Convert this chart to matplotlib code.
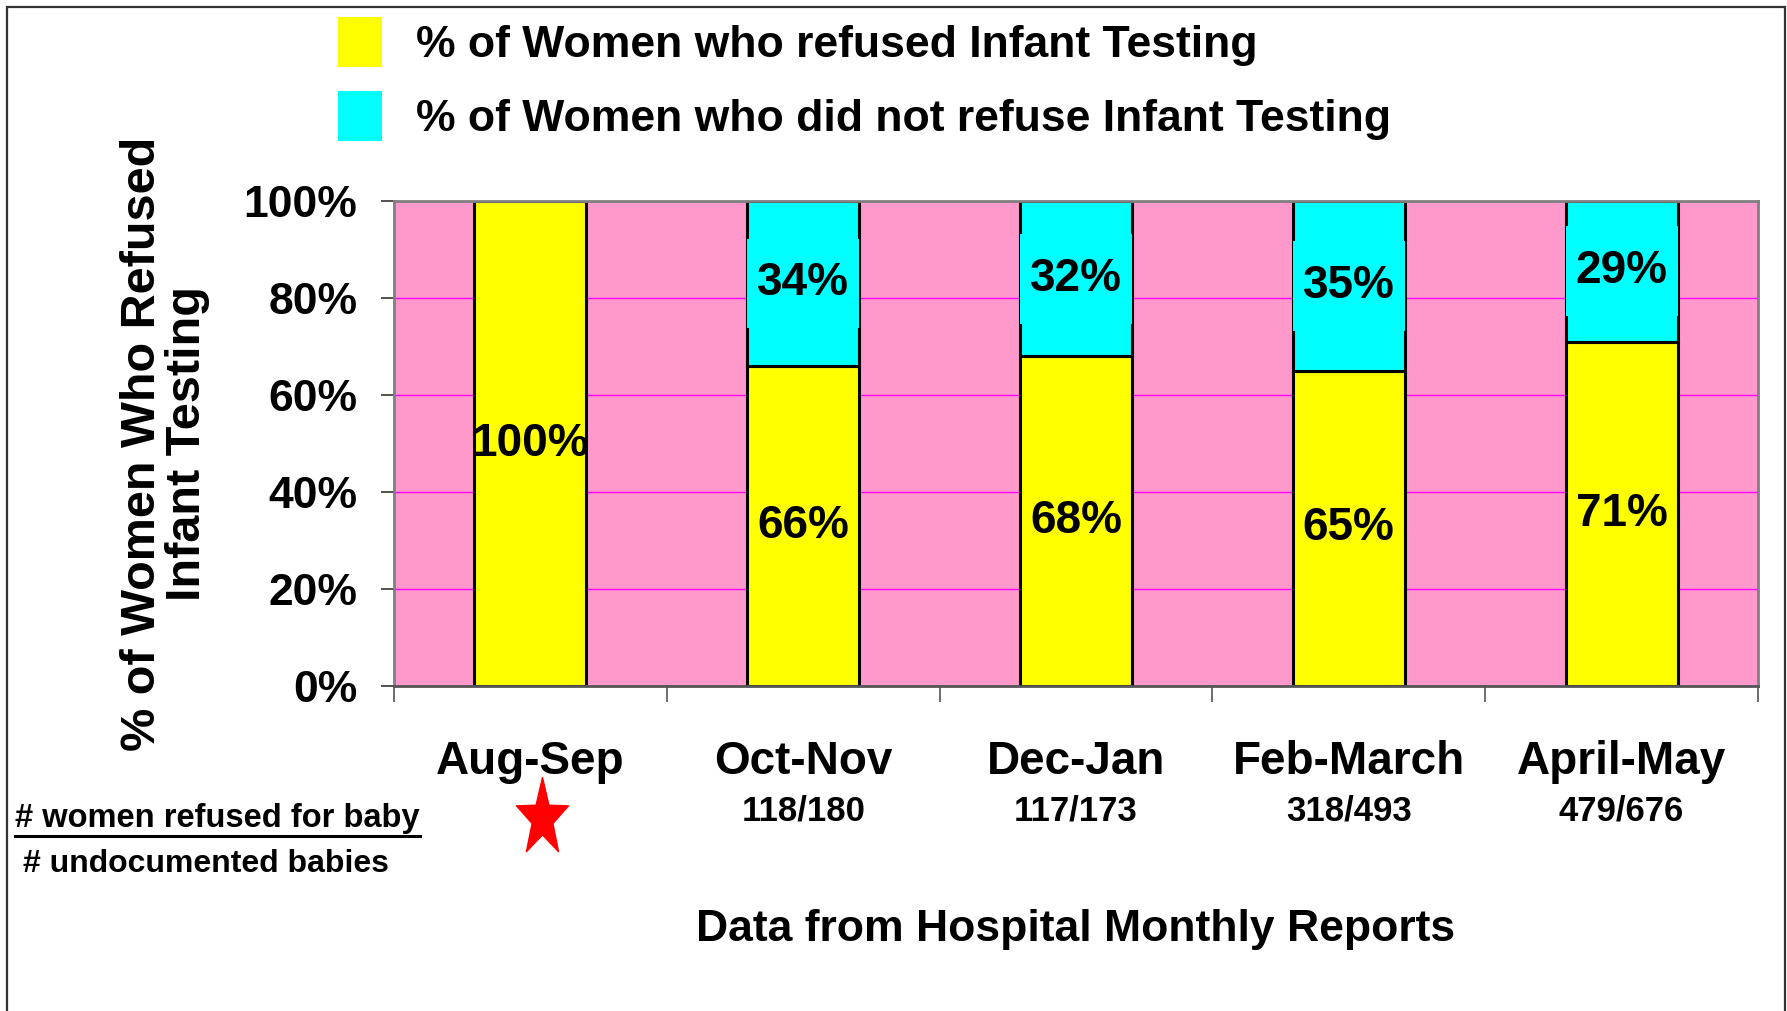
import matplotlib
matplotlib.use('Agg')
import matplotlib.pyplot as plt
from matplotlib.patches import Patch, Rectangle
from matplotlib.lines import Line2D
from matplotlib.path import Path
from matplotlib import transforms
import numpy as np

# data
periods = ['Aug-Sep', 'Oct-Nov', 'Dec-Jan', 'Feb-March', 'April-May']
refused = [100, 66, 68, 65, 71]
not_refused = [0, 34, 32, 35, 29]
counts = ['', '118/180', '117/173', '318/493', '479/676']
y_ticks = [0, 20, 40, 60, 80, 100]

legend_labels = ['% of Women who refused Infant Testing',
                 '% of Women who did not refuse Infant Testing']

YELLOW = '#FFFF00'
CYAN = '#00FFFF'
PINK = '#FF99CC'

W, H = 1787, 1011
fig = plt.figure(figsize=(W / 100, H / 100), dpi=100)
ax = fig.add_axes([394 / W, 1 - 686 / H, (1758 - 394) / W, (686 - 201) / H])

font = ['Liberation Sans', 'DejaVu Sans']


def label_box(x0, y0, width, height, mutation_size):
    # box taller than wide, like the excel data labels
    px, py = 0.22 * mutation_size, 0.5 * mutation_size
    x0, y0 = x0 - px, y0 - py
    x1, y1 = x0 + width + 2 * px, y0 + height + 2 * py
    return Path([(x0, y0), (x1, y0), (x1, y1), (x0, y1), (x0, y0)], closed=True)


x = np.arange(len(periods))
ax.set_facecolor(PINK)
ax.set_axisbelow(True)
ax.yaxis.grid(True, color='#FF00FF', linewidth=1)

bars_r = ax.bar(x, refused, width=0.41, color=YELLOW, edgecolor='black', linewidth=2.2)
bars_n = ax.bar(x, not_refused, width=0.41, bottom=refused, color=CYAN,
                edgecolor='black', linewidth=2.2)

ax.bar_label(bars_r, labels=[f'{v}%' for v in refused], label_type='center',
             fontsize=33, fontweight='bold', family=font)
ax.bar_label(bars_n, labels=[f'{v}%' if v else '' for v in not_refused],
             label_type='center', fontsize=33, fontweight='bold', family=font,
             bbox=dict(boxstyle=label_box, facecolor=CYAN, edgecolor='none'))

ax.set_xlim(-0.5, len(periods) - 0.5)
ax.set_ylim(0, 100)
ax.set_yticks(y_ticks)
ax.set_yticklabels([f'{t}%' for t in y_ticks], fontsize=32, fontweight='bold', family=font)
ax.tick_params(axis='y', length=9.5, width=1.2, pad=17, color='#333333')

ax.set_xticks(x)
ax.set_xticklabels(periods, fontsize=33, fontweight='bold', family=font)
ax.set_xticks(np.arange(len(periods) + 1) - 0.5, minor=True)
ax.tick_params(axis='x', which='major', length=0, pad=39)
ax.tick_params(axis='x', which='minor', length=11.5, width=1.2, color='#555555')

for s in ax.spines.values():
    s.set_color('#808080')
    s.set_linewidth(2)
ax.spines['bottom'].set_color('#555555')

ax.set_ylabel('% of Women Who Refused\nInfant Testing', fontsize=35, fontweight='bold',
              family=font, linespacing=1.0, va='center')
ax.yaxis.set_label_coords((165 - 394) / (1758 - 394), 0.5)

blend = transforms.blended_transform_factory(ax.transData, ax.transAxes)
for i, c in enumerate(counts):
    if c:
        ax.annotate(c, xy=(i, 0), xycoords=blend, xytext=(0, -90),
                    textcoords='offset points', ha='center', va='center',
                    fontsize=25, fontweight='bold', family=font)

# red star under Aug-Sep
ang = np.pi / 2 + np.arange(10) * np.pi / 5
rad = np.where(np.arange(10) % 2 == 0, 1.0, 0.4)
verts = np.column_stack([rad * np.cos(ang), 1.5 * rad * np.sin(ang)])
star = Path(np.vstack([verts, verts[:1]]), closed=True)
ax.plot([0], [0], marker=star, markersize=59, color='red', linestyle='none',
        clip_on=False,
        transform=blend + transforms.ScaledTranslation(12 / 100, -132 / 100, fig.dpi_scale_trans))

handles = [Patch(facecolor=YELLOW, edgecolor='none'), Patch(facecolor=CYAN, edgecolor='none')]
fig.legend(handles, legend_labels, loc='upper left', bbox_to_anchor=(338 / W, 1 - 17 / H),
           frameon=False, borderpad=0, borderaxespad=0, handlelength=1.0,
           handleheight=1.35, handletextpad=0.75, labelspacing=0.55,
           prop=dict(family=font, weight='bold', size=32))

fig.text(1076 / W, 1 - 929 / H, 'Data from Hospital Monthly Reports', ha='center',
         va='center', fontsize=32, fontweight='bold', family=font)

t1 = fig.text(15 / W, 1 - 818 / H, '# women refused for baby', ha='left', va='center',
              fontsize=23.5, fontweight='bold', family=font)
fig.text(23 / W, 1 - 864 / H, '# undocumented babies', ha='left', va='center',
         fontsize=23, fontweight='bold', family=font)

fig.canvas.draw()
bb = t1.get_window_extent()
fig.add_artist(Line2D([bb.x0 / W, bb.x1 / W], [1 - 836 / H, 1 - 836 / H],
                      transform=fig.transFigure, color='black', linewidth=2.2))

fig.add_artist(Rectangle((7 / W, -0.1), (1785 - 7) / W, 1.1 - 7 / H,
                         transform=fig.transFigure, fill=False,
                         edgecolor='#333333', linewidth=1.6))

fig.savefig('out.png', dpi=100)
